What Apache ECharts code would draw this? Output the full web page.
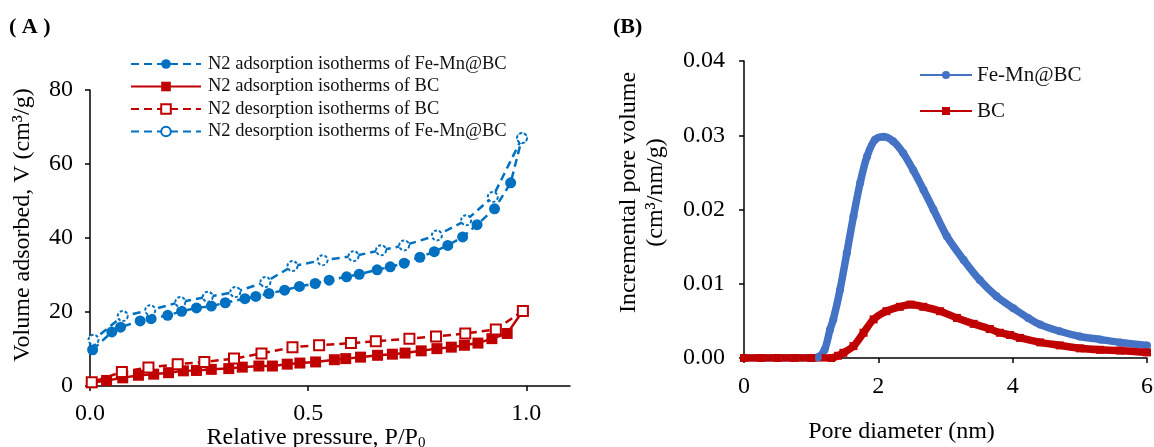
<!DOCTYPE html>
<html>
<head>
<meta charset="utf-8">
<script src="https://cdn.jsdelivr.net/npm/echarts@6/dist/echarts.min.js"></script>
<style>
  html, body { margin: 0; padding: 0; background: #fff; }
  #chart { width: 1154px; height: 447px; }
</style>
</head>
<body>
<div id="chart"></div>
<script>
// ---- panel A: N2 isotherms (P/P0, volume cm3/g) ----
let feMnAdsP = [0.006, 0.05, 0.07, 0.115, 0.14, 0.178, 0.21, 0.244, 0.278, 0.31, 0.355, 0.38, 0.41, 0.446, 0.48, 0.516, 0.548, 0.588, 0.617, 0.658, 0.688, 0.72, 0.756, 0.789, 0.82, 0.854, 0.887, 0.927, 0.964, 0.99];
let feMnAdsV = [9.8, 14.6, 15.9, 17.6, 18.2, 19.1, 20.2, 21.1, 21.6, 22.5, 23.6, 24.2, 25.0, 25.9, 26.9, 27.7, 28.6, 29.5, 30.2, 31.4, 32.2, 33.2, 34.8, 36.3, 38.0, 40.3, 43.6, 47.9, 54.9, 67.0];

let feMnDesP = [0.99, 0.923, 0.862, 0.795, 0.72, 0.667, 0.604, 0.533, 0.464, 0.402, 0.333, 0.27, 0.207, 0.138, 0.075, 0.008];
let feMnDesV = [67.0, 51.1, 44.8, 40.7, 38.0, 36.7, 35.1, 34.0, 32.4, 28.1, 25.4, 24.1, 22.7, 20.5, 18.9, 12.5];

let bcAdsP = [0.004, 0.038, 0.075, 0.111, 0.146, 0.18, 0.214, 0.244, 0.278, 0.318, 0.349, 0.387, 0.418, 0.452, 0.481, 0.517, 0.56, 0.586, 0.62, 0.659, 0.693, 0.722, 0.759, 0.795, 0.828, 0.858, 0.889, 0.921, 0.956, 0.992];
let bcAdsV = [0.9, 1.5, 2.2, 2.9, 3.2, 3.6, 4.1, 4.2, 4.5, 4.7, 5.1, 5.4, 5.4, 5.9, 6.2, 6.5, 7.1, 7.4, 7.8, 8.3, 8.6, 8.9, 9.5, 10.1, 10.5, 11.0, 11.6, 12.8, 14.2, 20.3];

let bcDesP = [0.992, 0.93, 0.86, 0.793, 0.732, 0.655, 0.598, 0.525, 0.464, 0.393, 0.33, 0.262, 0.201, 0.134, 0.073, 0.004];
let bcDesV = [20.3, 15.3, 14.2, 13.4, 12.8, 12.1, 11.6, 11.0, 10.5, 8.8, 7.4, 6.5, 5.9, 5.0, 3.8, 1.0];

// ---- panel B: pore size distribution (nm, cm3/nm/g) ----
let feMnPoreD = [0, 0.25, 0.5, 0.75, 1.0, 1.1, 1.2, 1.28, 1.33, 1.43, 1.53, 1.63, 1.73, 1.83, 1.95, 2.08, 2.22, 2.37, 2.52, 2.67, 2.82, 3.02, 3.27, 3.51, 3.76, 4.01, 4.23, 4.41, 4.7, 5.0, 5.3, 5.6, 6.0];
let feMnPoreV = [0, 0, 0, 0, 0, 0.0001, 0.0011, 0.0038, 0.0052, 0.0092, 0.0141, 0.0191, 0.0236, 0.0271, 0.0294, 0.0298, 0.0292, 0.0276, 0.0253, 0.0227, 0.0200, 0.0164, 0.0132, 0.0105, 0.0083, 0.0067, 0.0054, 0.0045, 0.0036, 0.0029, 0.0025, 0.0021, 0.0017];

let bcPoreD = [0, 0.25, 0.5, 0.75, 1.0, 1.3, 1.4, 1.48, 1.63, 1.78, 1.93, 2.12, 2.32, 2.48, 2.67, 2.92, 3.17, 3.42, 3.66, 3.81, 3.96, 4.11, 4.41, 4.7, 5.0, 5.3, 5.6, 6.0];
let bcPoreV = [0, 0, 0, 0, 0, 0, 0.0003, 0.0007, 0.0016, 0.0034, 0.0052, 0.0063, 0.0069, 0.0072, 0.0069, 0.0063, 0.0054, 0.0046, 0.0039, 0.0034, 0.0031, 0.0027, 0.0021, 0.0017, 0.0013, 0.0011, 0.001, 0.00075];

const font = "Liberation Serif";
const blueA = "#0070C0";
const blueB = "#4472C4";
const red = "#C00000";

function pairs(xs, ys) {
  return xs.map((x, i) => [x, ys[i]]);
}

let myChart = echarts.init(document.getElementById("chart"));

let axisCommon = {
  axisLine: { lineStyle: { color: "#000", width: 1.5 } },
  axisTick: { inside: false, length: 5, lineStyle: { color: "#000", width: 1.5 } },
  splitLine: { show: false },
  axisLabel: { color: "#000", fontFamily: font, fontSize: 24 },
  nameTextStyle: { color: "#000", fontFamily: font, fontSize: 24 },
  nameMoveOverlap: false,
};

myChart.setOption({
  animation: false,
  textStyle: { fontFamily: font },
  graphic: [
    { type: "text", left: 9, top: 16, style: { text: "( A )", font: "bold 22px Liberation Serif", fill: "#000" } },
    { type: "text", left: 613, top: 16, style: { text: "(B)", font: "bold 22px Liberation Serif", fill: "#000" } },
  ],
  legend: [
    {
      left: 125,
      top: 49,
      orient: "vertical",
      itemWidth: 70,
      itemHeight: 12,
      itemGap: 2.5,
      textStyle: { fontFamily: font, fontSize: 18.5, lineHeight: 20, color: "#111", padding: [0, 0, 0, 2] },
      data: [
        "N2 adsorption isotherms of Fe-Mn@BC",
        "N2 adsorption isotherms of BC",
        "N2 desorption isotherms of BC",
        "N2 desorption isotherms of Fe-Mn@BC",
      ],
    },
    {
      left: 914,
      top: 59,
      orient: "vertical",
      itemWidth: 52,
      itemHeight: 10,
      itemGap: 14,
      textStyle: { fontFamily: font, fontSize: 21, lineHeight: 22, color: "#111" },
      data: ["Fe-Mn@BC", "BC"],
    },
  ],
  // outerBoundsMode none: keep the plot areas where they are even if text runs off the edge
  grid: [
    { left: 90, top: 90, width: 480, height: 296, outerBoundsMode: "none" },
    { left: 744, top: 61, width: 403, height: 297, outerBoundsMode: "none" },
  ],
  xAxis: [
    {
      ...axisCommon,
      gridIndex: 0,
      type: "value",
      min: 0,
      max: 1.1,
      interval: 0.5,
      axisTick: { ...axisCommon.axisTick, customValues: [0, 0.5, 1.0] },
      axisLabel: { ...axisCommon.axisLabel, margin: 16, customValues: [0, 0.5, 1.0], formatter: (v) => v.toFixed(1) },
      name: "Relative pressure, P/P{sub|0}",
      nameLocation: "middle",
      nameGap: 38,
      nameTextStyle: {
        ...axisCommon.nameTextStyle,
        padding: [0, 28, 0, 0],
        rich: { sub: { fontFamily: font, fontSize: 15, verticalAlign: "bottom", padding: [12, 0, 0, 0] } },
      },
    },
    {
      ...axisCommon,
      gridIndex: 1,
      type: "value",
      min: 0,
      max: 6,
      interval: 2,
      axisLabel: { ...axisCommon.axisLabel, margin: 17 },
      name: "Pore diameter (nm)",
      nameLocation: "middle",
      nameGap: 62,
      nameTextStyle: { ...axisCommon.nameTextStyle, padding: [0, 88, 0, 0] },
    },
  ],
  yAxis: [
    {
      ...axisCommon,
      gridIndex: 0,
      type: "value",
      min: 0,
      max: 80,
      interval: 20,
      axisLabel: { ...axisCommon.axisLabel, margin: 17 },
      name: "Volume adsorbed, V (cm³/g)",
      nameLocation: "middle",
      nameRotate: 90,
      nameGap: 55,
      nameTextStyle: { ...axisCommon.nameTextStyle, padding: [0, 0, 0, 26] },
    },
    {
      ...axisCommon,
      gridIndex: 1,
      type: "value",
      min: 0,
      max: 0.04,
      interval: 0.01,
      axisLabel: { ...axisCommon.axisLabel, margin: 19, formatter: (v) => v.toFixed(2) },
      name: "Incremental pore volume\n(cm³/nm/g)",
      nameLocation: "middle",
      nameRotate: 90,
      nameGap: 75,
      nameTextStyle: { ...axisCommon.nameTextStyle, lineHeight: 27, padding: [0, 0, 0, 34] },
    },
  ],
  series: [
    {
      name: "N2 adsorption isotherms of Fe-Mn@BC",
      type: "line",
      xAxisIndex: 0,
      yAxisIndex: 0,
      data: pairs(feMnAdsP, feMnAdsV),
      symbol: "circle",
      symbolSize: 11,
      color: blueA,
      lineStyle: { width: 2.5, type: [8, 5] },
    },
    {
      name: "N2 adsorption isotherms of BC",
      type: "line",
      xAxisIndex: 0,
      yAxisIndex: 0,
      data: pairs(bcAdsP, bcAdsV),
      symbol: "rect",
      symbolSize: 11,
      color: red,
      lineStyle: { width: 2.5 },
    },
    {
      name: "N2 desorption isotherms of BC",
      type: "line",
      xAxisIndex: 0,
      yAxisIndex: 0,
      data: pairs(bcDesP, bcDesV),
      symbol: "emptyRect",
      symbolSize: 10,
      color: red,
      itemStyle: { borderWidth: 1.5 },
      lineStyle: { width: 2.5, type: [8, 5] },
    },
    {
      name: "N2 desorption isotherms of Fe-Mn@BC",
      type: "line",
      xAxisIndex: 0,
      yAxisIndex: 0,
      data: pairs(feMnDesP, feMnDesV),
      symbol: "emptyCircle",
      symbolSize: 10,
      color: blueA,
      itemStyle: { borderWidth: 2, borderType: [3, 2] },
      lineStyle: { width: 2.5, type: [8, 5] },
    },
    {
      name: "Fe-Mn@BC",
      type: "line",
      xAxisIndex: 1,
      yAxisIndex: 1,
      data: pairs(feMnPoreD, feMnPoreV),
      symbol: "circle",
      symbolSize: 8,
      smooth: 0.3,
      color: blueB,
      lineStyle: { width: 7.5 },
    },
    {
      name: "BC",
      type: "line",
      xAxisIndex: 1,
      yAxisIndex: 1,
      data: pairs(bcPoreD, bcPoreV),
      symbol: "rect",
      symbolSize: 8,
      smooth: 0.3,
      color: red,
      lineStyle: { width: 7.5 },
    },
  ],
});
</script>
</body>
</html>
